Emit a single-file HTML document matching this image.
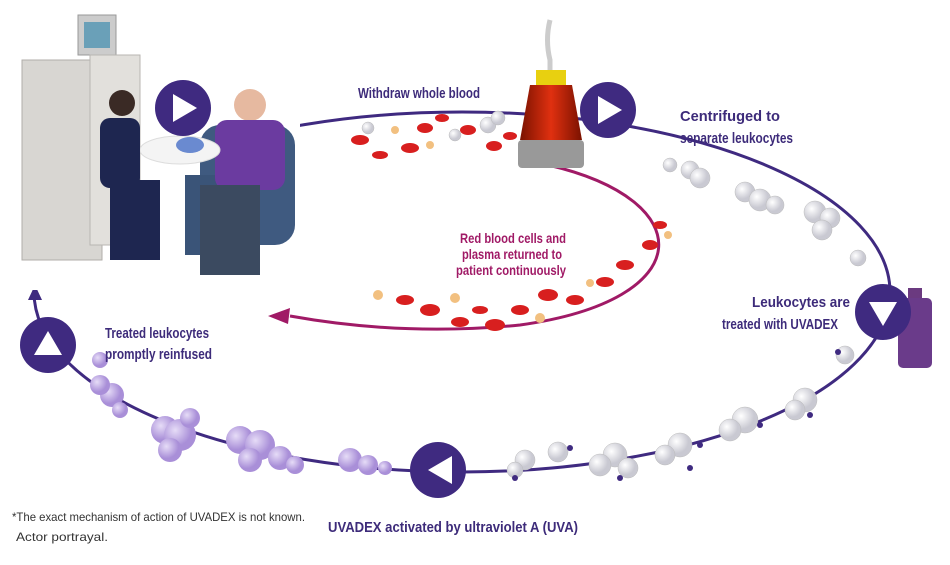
<!DOCTYPE html>
<html><head><style>
body{margin:0;background:#fff;}
svg text{font-family:"Liberation Sans",sans-serif;font-weight:bold;}
</style></head><body>
<svg width="950" height="560" viewBox="0 0 950 560" xmlns="http://www.w3.org/2000/svg">
<defs>
<radialGradient id="lav" cx="35%" cy="35%"><stop offset="0" stop-color="#e6dcf7"/><stop offset="1" stop-color="#a98fd8"/></radialGradient>
<radialGradient id="wh" cx="35%" cy="35%"><stop offset="0" stop-color="#ffffff"/><stop offset="1" stop-color="#c9c9d2"/></radialGradient>
<linearGradient id="cup" x1="0" x2="1"><stop offset="0" stop-color="#7a1200"/><stop offset=".5" stop-color="#e03010"/><stop offset="1" stop-color="#7a1200"/></linearGradient>
</defs>
<!-- outer loop -->
<ellipse cx="462" cy="292" rx="428" ry="180" fill="none" stroke="#3f2a80" stroke-width="3"/>
<!-- inner loop -->
<path d="M548,165 C700,200 700,300 520,325 C420,335 340,325 290,316" fill="none" stroke="#a01a66" stroke-width="3"/>
<polygon points="268,316 290,308 288,324" fill="#a01a66"/>
<polygon points="35,285 28,300 42,300" fill="#3f2a80"/>
<!-- photo area -->
<rect x="0" y="0" width="300" height="290" fill="#fff"/>
<rect x="22" y="60" width="80" height="200" fill="#d8d6d2" stroke="#b0aeaa"/>
<rect x="78" y="15" width="38" height="40" fill="#ccc" stroke="#999"/>
<rect x="84" y="22" width="26" height="26" fill="#6aa0b8"/>
<rect x="90" y="55" width="50" height="190" fill="#e2e0dc" stroke="#b8b6b2"/>
<rect x="200" y="125" width="95" height="120" rx="20" fill="#3f5a80"/>
<rect x="185" y="175" width="75" height="80" fill="#3a5478"/>
<circle cx="250" cy="105" r="16" fill="#e6b9a0"/>
<rect x="215" y="120" width="70" height="70" rx="12" fill="#6b3ba0"/>
<rect x="200" y="185" width="60" height="90" fill="#3b4a60"/>
<ellipse cx="180" cy="150" rx="40" ry="14" fill="#f4f4f4" stroke="#ddd"/>
<circle cx="122" cy="103" r="13" fill="#3a2a25"/>
<rect x="100" y="118" width="40" height="70" rx="10" fill="#1e2650"/>
<rect x="110" y="180" width="50" height="80" fill="#1e2650"/>
<ellipse cx="190" cy="145" rx="14" ry="8" fill="#6a8ad0"/>
<!-- red cells / bubbles top -->
<g fill="#d81f1f">
<ellipse cx="360" cy="140" rx="9" ry="5"/><ellipse cx="380" cy="155" rx="8" ry="4"/><ellipse cx="410" cy="148" rx="9" ry="5"/><ellipse cx="425" cy="128" rx="8" ry="5"/><ellipse cx="442" cy="118" rx="7" ry="4"/><ellipse cx="468" cy="130" rx="8" ry="5"/><ellipse cx="494" cy="146" rx="8" ry="5"/><ellipse cx="510" cy="136" rx="7" ry="4"/>
<ellipse cx="405" cy="300" rx="9" ry="5"/><ellipse cx="430" cy="310" rx="10" ry="6"/><ellipse cx="460" cy="322" rx="9" ry="5"/><ellipse cx="495" cy="325" rx="10" ry="6"/><ellipse cx="520" cy="310" rx="9" ry="5"/><ellipse cx="548" cy="295" rx="10" ry="6"/><ellipse cx="575" cy="300" rx="9" ry="5"/><ellipse cx="605" cy="282" rx="9" ry="5"/><ellipse cx="625" cy="265" rx="9" ry="5"/><ellipse cx="650" cy="245" rx="8" ry="5"/><ellipse cx="660" cy="225" rx="7" ry="4"/><ellipse cx="480" cy="310" rx="8" ry="4"/>
</g>
<g fill="#f2c080">
<circle cx="395" cy="130" r="4"/><circle cx="430" cy="145" r="4"/><circle cx="378" cy="295" r="5"/><circle cx="455" cy="298" r="5"/><circle cx="540" cy="318" r="5"/><circle cx="590" cy="283" r="4"/><circle cx="668" cy="235" r="4"/>
</g>
<g fill="url(#wh)" stroke="#bbb" stroke-width=".5">
<circle cx="368" cy="128" r="6"/><circle cx="455" cy="135" r="6"/><circle cx="488" cy="125" r="8"/><circle cx="498" cy="118" r="7"/>
<circle cx="670" cy="165" r="7"/><circle cx="690" cy="170" r="9"/><circle cx="700" cy="178" r="10"/><circle cx="745" cy="192" r="10"/><circle cx="760" cy="200" r="11"/><circle cx="775" cy="205" r="9"/><circle cx="815" cy="212" r="11"/><circle cx="830" cy="218" r="10"/><circle cx="822" cy="230" r="10"/><circle cx="858" cy="258" r="8"/>
<circle cx="845" cy="355" r="9"/><circle cx="805" cy="400" r="12"/><circle cx="795" cy="410" r="10"/><circle cx="745" cy="420" r="13"/><circle cx="730" cy="430" r="11"/><circle cx="680" cy="445" r="12"/><circle cx="665" cy="455" r="10"/><circle cx="615" cy="455" r="12"/><circle cx="600" cy="465" r="11"/><circle cx="628" cy="468" r="10"/><circle cx="558" cy="452" r="10"/><circle cx="525" cy="460" r="10"/><circle cx="515" cy="470" r="8"/>
</g>
<g fill="#3f2a80">
<circle cx="838" cy="352" r="3"/><circle cx="810" cy="415" r="3"/><circle cx="760" cy="425" r="3"/><circle cx="700" cy="445" r="3"/><circle cx="690" cy="468" r="3"/><circle cx="620" cy="478" r="3"/><circle cx="570" cy="448" r="3"/><circle cx="515" cy="478" r="3"/>
</g>
<g fill="url(#lav)">
<circle cx="100" cy="360" r="8"/><circle cx="112" cy="395" r="12"/><circle cx="100" cy="385" r="10"/><circle cx="120" cy="410" r="8"/>
<circle cx="165" cy="430" r="14"/><circle cx="180" cy="435" r="16"/><circle cx="170" cy="450" r="12"/><circle cx="190" cy="418" r="10"/>
<circle cx="240" cy="440" r="14"/><circle cx="260" cy="445" r="15"/><circle cx="280" cy="458" r="12"/><circle cx="250" cy="460" r="12"/><circle cx="295" cy="465" r="9"/>
<circle cx="350" cy="460" r="12"/><circle cx="368" cy="465" r="10"/><circle cx="385" cy="468" r="7"/>
</g>
<!-- centrifuge -->
<path d="M550 20 Q545 40 550 60 L550 75" stroke="#ccc" stroke-width="5" fill="none"/>
<rect x="536" y="70" width="30" height="15" fill="#e8d010"/>
<polygon points="530,85 572,85 582,140 520,140" fill="url(#cup)"/>
<rect x="518" y="140" width="66" height="28" rx="4" fill="#999"/>
<!-- vial -->
<rect x="908" y="288" width="14" height="10" fill="#6b3a80"/>
<rect x="898" y="298" width="34" height="70" rx="5" fill="#6a3b8a"/>
<!-- arrow circles -->
<g fill="#3f2a80">
<circle cx="183" cy="108" r="28"/><circle cx="608" cy="110" r="28"/><circle cx="883" cy="312" r="28"/><circle cx="438" cy="470" r="28"/><circle cx="48" cy="345" r="28"/>
</g>
<g fill="#fff">
<polygon points="173,94 173,122 197,108"/><polygon points="598,96 598,124 622,110"/><polygon points="869,302 897,302 883,326"/><polygon points="452,456 452,484 428,470"/><polygon points="34,355 62,355 48,331"/>
</g>
<!-- labels -->
<g fill="#3d2b7a" font-size="15" lengthAdjust="spacingAndGlyphs">
<text x="358" y="98" textLength="122" lengthAdjust="spacingAndGlyphs">Withdraw whole blood</text>
<text x="680" y="121" textLength="100" lengthAdjust="spacingAndGlyphs">Centrifuged to</text>
<text x="680" y="143" textLength="113" lengthAdjust="spacingAndGlyphs">separate leukocytes</text>
<text x="752" y="307" textLength="98" lengthAdjust="spacingAndGlyphs">Leukocytes are</text>
<text x="722" y="329" textLength="116" lengthAdjust="spacingAndGlyphs">treated with UVADEX</text>
<text x="105" y="338" textLength="104" lengthAdjust="spacingAndGlyphs">Treated leukocytes</text>
<text x="105" y="359" textLength="107" lengthAdjust="spacingAndGlyphs">promptly reinfused</text>
<text x="328" y="532" textLength="250" lengthAdjust="spacingAndGlyphs">UVADEX activated by ultraviolet A (UVA)</text>
</g>
<g fill="#a01a66" font-size="14">
<text x="460" y="243" textLength="106" lengthAdjust="spacingAndGlyphs">Red blood cells and</text>
<text x="462" y="259" textLength="100" lengthAdjust="spacingAndGlyphs">plasma returned to</text>
<text x="456" y="275" textLength="110" lengthAdjust="spacingAndGlyphs">patient continuously</text>
</g>
<g fill="#333" font-size="12">
<text x="12" y="521" textLength="293" lengthAdjust="spacingAndGlyphs" style="font-weight:normal">*The exact mechanism of action of UVADEX is not known.</text>
<text x="16" y="541" textLength="92" lengthAdjust="spacingAndGlyphs" style="font-weight:normal">Actor portrayal.</text>
</g>
</svg>
</body></html>
